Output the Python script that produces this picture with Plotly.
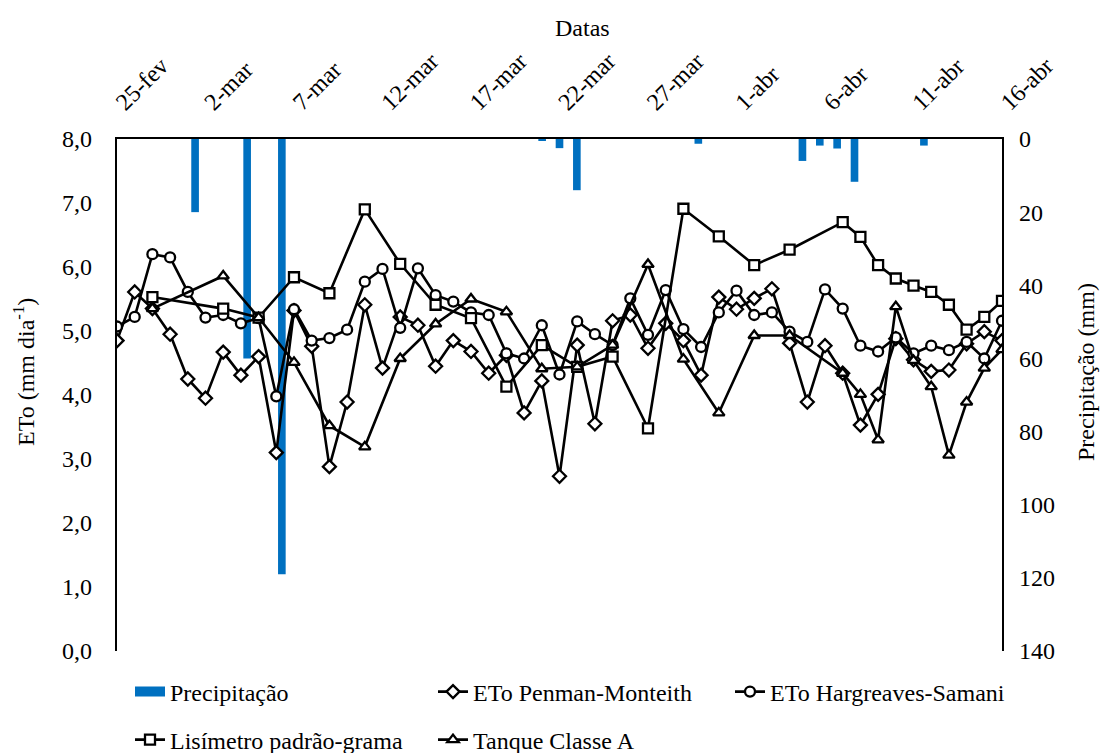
import pandas as pd
import plotly.graph_objects as go

# Daily reference evapotranspiration series (25-fev to 16-abr)
dates = pd.date_range("2015-02-25", "2015-04-16", freq="D")

eto_penman = [4.85, 5.61, 5.35, 4.95, 4.25, 3.95, 4.67, 4.31, 4.60, 3.10,
              5.32, 4.76, 2.88, 3.89, 5.41, 4.42, 5.22, 5.09, 4.45, 4.85,
              4.68, 4.34, 4.62, 3.72, 4.22, 2.73, 4.78, 3.55, 5.16, 5.25,
              4.73, 5.12, 4.85, 4.31, 5.53, 5.34, 5.51, 5.66, 4.81, 3.89,
              4.77, 4.34, 3.53, 4.01, 4.88, 4.55, 4.37, 4.39, 4.80, 4.99,
              4.85]

eto_hargreaves = [5.07, 5.22, 6.20, 6.15, 5.61, 5.21, 5.25, 5.12, 5.20, 3.98,
                  5.34, 4.85, 4.89, 5.02, 5.77, 5.97, 5.05, 5.98, 5.56, 5.46,
                  5.29, 5.25, 4.65, 4.57, 5.09, 4.32, 5.15, 4.95, 4.78, 5.51,
                  4.94, 5.64, 5.03, 4.75, 5.29, 5.63, 5.25, 5.29, 4.99, 4.83,
                  5.65, 5.35, 4.77, 4.68, 4.90, 4.65, 4.77, 4.70, 4.83, 4.57,
                  5.16]

# Lysimeter and Class A pan readings share the same measurement dates
medicao_datas = ["2015-02-27", "2015-03-03", "2015-03-05", "2015-03-07", "2015-03-09",
                 "2015-03-11", "2015-03-13", "2015-03-15", "2015-03-17", "2015-03-19",
                 "2015-03-21", "2015-03-23", "2015-03-25", "2015-03-27", "2015-03-29",
                 "2015-03-31", "2015-04-02", "2015-04-04", "2015-04-07", "2015-04-08",
                 "2015-04-09", "2015-04-10", "2015-04-11", "2015-04-12", "2015-04-13",
                 "2015-04-14", "2015-04-15", "2015-04-16"]

lisimetro = [5.53, 5.35, 5.21, 5.84, 5.59, 6.90, 6.05, 5.41, 5.20, 4.13,
             4.78, 4.44, 4.60, 3.48, 6.91, 6.48, 6.03, 6.27, 6.70, 6.47,
             6.03, 5.82, 5.71, 5.61, 5.41, 5.02, 5.22, 5.47]

tanque = [5.35, 5.86, 5.21, 4.51, 3.52, 3.19, 4.57, 5.11, 5.50, 5.30,
          4.41, 4.44, 4.78, 6.04, 4.56, 3.72, 4.93, 4.93, 4.34, 4.01,
          3.30, 5.38, 4.54, 4.13, 3.06, 3.89, 4.42, 4.71]

# Rainfall events (mm)
chuva_datas = ["2015-03-01", "2015-03-04", "2015-03-06", "2015-03-21", "2015-03-22",
               "2015-03-23", "2015-03-30", "2015-04-05", "2015-04-06", "2015-04-07",
               "2015-04-08", "2015-04-12"]
chuva_mm = [20, 60, 119, 0.5, 2.5, 14, 1.3, 6, 1.8, 2.6, 11.7, 1.8]

tick_datas = pd.date_range("2015-02-25", "2015-04-16", freq="5D")
tick_rotulos = ["25-fev", "2-mar", "7-mar", "12-mar", "17-mar", "22-mar",
                "27-mar", "1-abr", "6-abr", "11-abr", "16-abr"]

FONT = "Liberation Serif"
BLUE = "#0070C0"
DAY = pd.Timedelta(days=1)
half_day = pd.Timedelta(hours=12)

W, H = 1102, 753
PLOT_L, PLOT_R, PLOT_T, PLOT_B = 117, 1002, 139, 651

text_font = dict(family=FONT, size=24, color="black")

fig = go.Figure()

# Rain bars on the base subplot (right axis, reversed), drawn beneath the lines
fig.add_trace(go.Bar(
    x=pd.to_datetime(chuva_datas), y=chuva_mm, name="Precipitação",
    marker=dict(color=BLUE, line=dict(width=0)),
    width=0.44 * DAY.total_seconds() * 1000,
    xaxis="x", yaxis="y", showlegend=False,
))
# legend swatch for the rain bars (wide filled strip)
fig.add_trace(go.Scatter(
    x=[None], y=[None], name="Precipitação", mode="lines",
    line=dict(color=BLUE, width=12), xaxis="x", yaxis="y", legend="legend",
))

marker_common = dict(size=10, color="white", line=dict(color="black", width=2.3))
line_common = dict(color="black", width=2.6)

series = [
    ("ETo Penman-Monteith", dates, eto_penman, "diamond", "legend2"),
    ("ETo Hargreaves-Samani", dates, eto_hargreaves, "circle", "legend3"),
    ("Lisímetro padrão-grama", pd.to_datetime(medicao_datas), lisimetro, "square", "legend4"),
    ("Tanque Classe A", pd.to_datetime(medicao_datas), tanque, "triangle-up", "legend5"),
]
for nome, xs, ys, simbolo, leg in series:
    fig.add_trace(go.Scatter(
        x=xs, y=ys, name=nome, mode="lines+markers",
        marker=dict(symbol=simbolo, **marker_common), line=line_common,
        xaxis="x2", yaxis="y2", legend=leg,
    ))


def legend_at(text_left_px, center_y_px):
    return dict(
        orientation="h", x=(text_left_px - 40) / W, xref="container", xanchor="left",
        y=1 - center_y_px / H, yref="container", yanchor="middle",
        font=text_font, bgcolor="rgba(0,0,0,0)", borderwidth=0,
    )


fig.update_layout(
    width=W, height=H,
    margin=dict(l=PLOT_L, r=W - PLOT_R, t=PLOT_T, b=H - PLOT_B, autoexpand=False),
    paper_bgcolor="white", plot_bgcolor="white",
    separators=",.",
    font=text_font,
    showlegend=True,
    barmode="overlay",
    xaxis=dict(
        type="date", range=[dates[0] - half_day, dates[-1] + half_day],
        visible=False, fixedrange=True,
    ),
    xaxis2=dict(
        type="date", overlaying="x", side="top", anchor="y2",
        range=[dates[0], dates[-1]],
        tickvals=tick_datas, ticktext=tick_rotulos, tickangle=-45,
        tickfont=text_font, showgrid=False, zeroline=False,
        showline=True, linecolor="black", linewidth=2.2,
        ticks="", ticklabelstandoff=12,
    ),
    yaxis=dict(
        side="right", range=[140, 0], dtick=20, tickformat="d",
        tickfont=text_font, showgrid=False, zeroline=False,
        showline=True, linecolor="black", linewidth=2.2, ticks="",
        ticklabelstandoff=10,
    ),
    yaxis2=dict(
        overlaying="y", side="left", anchor="x2", range=[0, 8], dtick=1,
        tickformat=".1f", tickfont=text_font, showgrid=False, zeroline=False,
        showline=True, linecolor="black", linewidth=2.2, ticks="",
        ticklabelstandoff=18,
    ),
    legend=legend_at(170, 692),
    legend2=legend_at(473, 692),
    legend3=legend_at(770, 692),
    legend4=legend_at(170, 740),
    legend5=legend_at(473, 740),
    annotations=[
        dict(text="Datas", x=582, y=28),
        dict(text="ETo (mm dia<sup>-1</sup>)", x=24, y=372, textangle=-90),
        dict(text="Precipitação (mm)", x=1086, y=372, textangle=-90),
    ],
)

# annotations are given in pixels; convert to plot-area fractions
for ann in fig.layout.annotations:
    px, py = ann.x, ann.y
    ann.update(
        x=(px - PLOT_L) / (PLOT_R - PLOT_L), xref="paper",
        y=(PLOT_B - py) / (PLOT_B - PLOT_T), yref="paper",
        xanchor="center", yanchor="middle", showarrow=False, font=text_font,
    )

fig.write_html("out.html")
